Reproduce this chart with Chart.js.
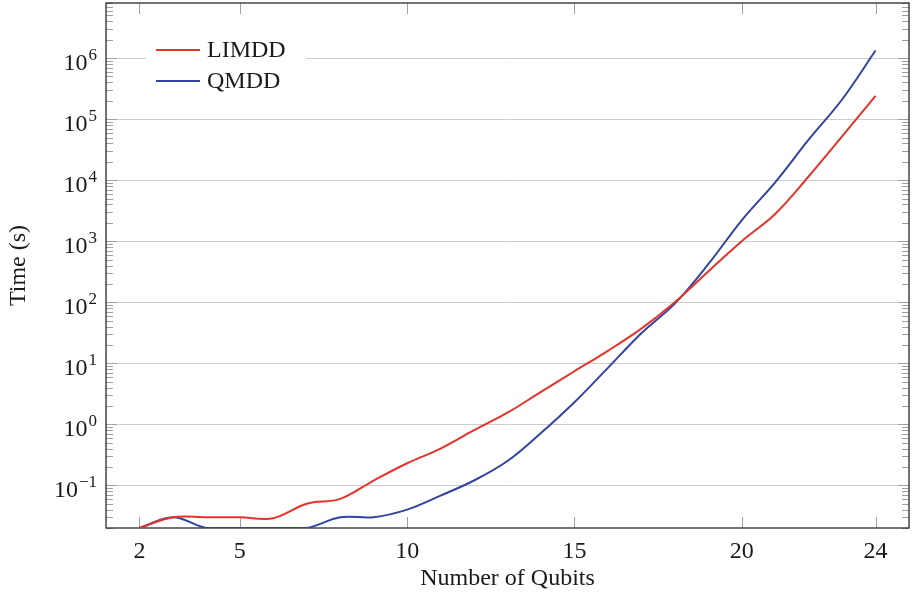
<!DOCTYPE html>
<html>
<head>
<meta charset="utf-8">
<title>LIMDD vs QMDD</title>
<script src="https://cdn.jsdelivr.net/npm/chart.js@4.4.1/dist/chart.umd.min.js"></script>
<style>
  html, body { margin: 0; padding: 0; background: #fff; }
  #wrap { width: 912px; height: 593px; }
</style>
</head>
<body>
<div id="wrap"><canvas id="timeChart"></canvas></div>
<script>
// ===============================
// data
// ===============================
const qubits = [2, 3, 4, 5, 6, 7, 8, 9, 10, 11, 12, 13, 14, 15, 16, 17, 18, 19, 20, 21, 22, 23, 24];
const limddTime = [0.02, 0.03, 0.03, 0.03, 0.029, 0.05, 0.06, 0.12, 0.23, 0.40, 0.80, 1.55, 3.4,
                   7.4, 16, 37, 100, 320, 1000, 2800, 11500, 52000, 240000];
const qmddTime = [0.02, 0.03, 0.02, 0.02, 0.02, 0.02, 0.03, 0.03, 0.04, 0.068, 0.12, 0.25, 0.72,
                  2.3, 8.4, 31, 95, 420, 2200, 9200, 46000, 210000, 1330000];
const xTicks = [2, 5, 10, 15, 20, 24];
const yDecades = [-1, 0, 1, 2, 3, 4, 5, 6];

const FONT = '"Liberation Serif", "Times New Roman", serif';
const TEXT = '#1a1a1a';

// minor + major tick values for the log axis
const Y_MIN = 0.02, Y_MAX = 8e6;
const yTickValues = [];
for (let e = -2; e <= 6; e++) {
    for (let m = 1; m <= 9; m++) {
        const v = m * Math.pow(10, e);
        if (v >= Y_MIN && v <= Y_MAX) yTickValues.push(v);
    }
}
const isDecade = v => Math.abs(Math.log10(v) - Math.round(Math.log10(v))) < 1e-9;

// ===============================
// plugins: frame + inward ticks, y labels with exponents, legend
// ===============================
const framePlugin = {
    id: 'frame',
    beforeDatasetsDraw(chart) {
        const { ctx, chartArea: a, scales } = chart;
        ctx.save();
        ctx.strokeStyle = '#a0a0a0';
        ctx.lineWidth = 1;
        ctx.beginPath();
        scales.y.ticks.forEach(t => {
            const py = Math.round(scales.y.getPixelForValue(t.value)) + 0.5;
            const len = isDecade(t.value) ? 11 : 7;
            ctx.moveTo(a.left, py); ctx.lineTo(a.left + len, py);
            ctx.moveTo(a.right, py); ctx.lineTo(a.right - len, py);
        });
        scales.x.ticks.forEach(t => {
            const px = Math.round(scales.x.getPixelForValue(t.value)) + 0.5;
            ctx.moveTo(px, a.bottom); ctx.lineTo(px, a.bottom - 11);
            ctx.moveTo(px, a.top); ctx.lineTo(px, a.top + 11);
        });
        ctx.stroke();
        ctx.strokeStyle = '#2a2a2a';
        ctx.lineWidth = 1.3;
        ctx.strokeRect(a.left, a.top, a.right - a.left, a.bottom - a.top);
        ctx.restore();
    },
    afterDraw(chart) {
        const { ctx, chartArea: a, scales } = chart;
        ctx.save();
        ctx.fillStyle = TEXT;
        // y tick labels: 10^e
        const right = a.left - 9;
        yDecades.forEach(e => {
            const py = scales.y.getPixelForValue(Math.pow(10, e));
            const exp = e < 0 ? '\u2212' + (-e) : String(e);
            ctx.font = '17px ' + FONT;
            const ew = ctx.measureText(exp).width;
            ctx.textAlign = 'left';
            ctx.textBaseline = 'alphabetic';
            ctx.fillText(exp, right - ew, py + 2);
            ctx.font = '24px ' + FONT;
            const bw = ctx.measureText('10').width;
            ctx.fillText('10', right - ew - bw - 1, py + 11.5);
        });
        // legend
        const lx = a.left + 40, ly = a.top + 28;
        ctx.fillStyle = '#fff';
        ctx.fillRect(lx, ly, 160, 68);
        chart.data.datasets.forEach((ds, i) => {
            const y = ly + 19 + i * 31;
            ctx.strokeStyle = ds.borderColor;
            ctx.lineWidth = 2;
            ctx.beginPath();
            ctx.moveTo(lx + 10, y); ctx.lineTo(lx + 54, y);
            ctx.stroke();
            ctx.fillStyle = TEXT;
            ctx.font = '24px ' + FONT;
            ctx.textAlign = 'left';
            ctx.textBaseline = 'alphabetic';
            ctx.fillText(ds.label, lx + 61, y + 7);
        });
        ctx.restore();
    }
};

// ===============================
// chart
// ===============================
new Chart(document.getElementById('timeChart'), {
    type: 'line',
    data: {
        labels: qubits,
        datasets: [
            {
                label: 'LIMDD',
                data: qubits.map((q, i) => ({ x: q, y: limddTime[i] })),
                borderColor: '#e3342b',
                borderWidth: 2,
                pointRadius: 0,
                tension: 0.35,
                fill: false
            },
            {
                label: 'QMDD',
                data: qubits.map((q, i) => ({ x: q, y: qmddTime[i] })),
                borderColor: '#3343a2',
                borderWidth: 2,
                pointRadius: 0,
                tension: 0.35,
                fill: false
            }
        ]
    },
    options: {
        responsive: true,
        maintainAspectRatio: false,
        animation: false,
        layout: { padding: { top: 3, right: 3, left: 0, bottom: 0 } },
        plugins: {
            legend: { display: false },
            tooltip: { enabled: false }
        },
        scales: {
            x: {
                type: 'linear',
                min: 1,
                max: 25,
                afterBuildTicks: s => { s.ticks = xTicks.map(v => ({ value: v })); },
                grid: { display: false },
                border: { display: false },
                ticks: {
                    color: TEXT,
                    font: { family: FONT, size: 24 },
                    padding: 1,
                    maxRotation: 0,
                    autoSkip: false
                },
                title: {
                    display: true,
                    text: 'Number of Qubits',
                    color: TEXT,
                    font: { family: FONT, size: 24 },
                    padding: { top: 2, bottom: 0 }
                },
                afterFit: s => { s.height = 65; }
            },
            y: {
                type: 'logarithmic',
                min: Y_MIN,
                max: Y_MAX,
                afterBuildTicks: s => { s.ticks = yTickValues.map(v => ({ value: v })); },
                grid: {
                    color: c => (c.tick && isDecade(c.tick.value)) ? '#cdcdcd' : 'rgba(0,0,0,0)',
                    lineWidth: 1,
                    drawTicks: false
                },
                border: { display: false },
                ticks: { display: false },
                title: {
                    display: true,
                    text: 'Time (s)',
                    color: TEXT,
                    font: { family: FONT, size: 24 },
                    padding: { top: 4, bottom: 4 }
                },
                afterFit: s => { s.width = 106; }
            }
        }
    },
    plugins: [framePlugin]
});
</script>
</body>
</html>
